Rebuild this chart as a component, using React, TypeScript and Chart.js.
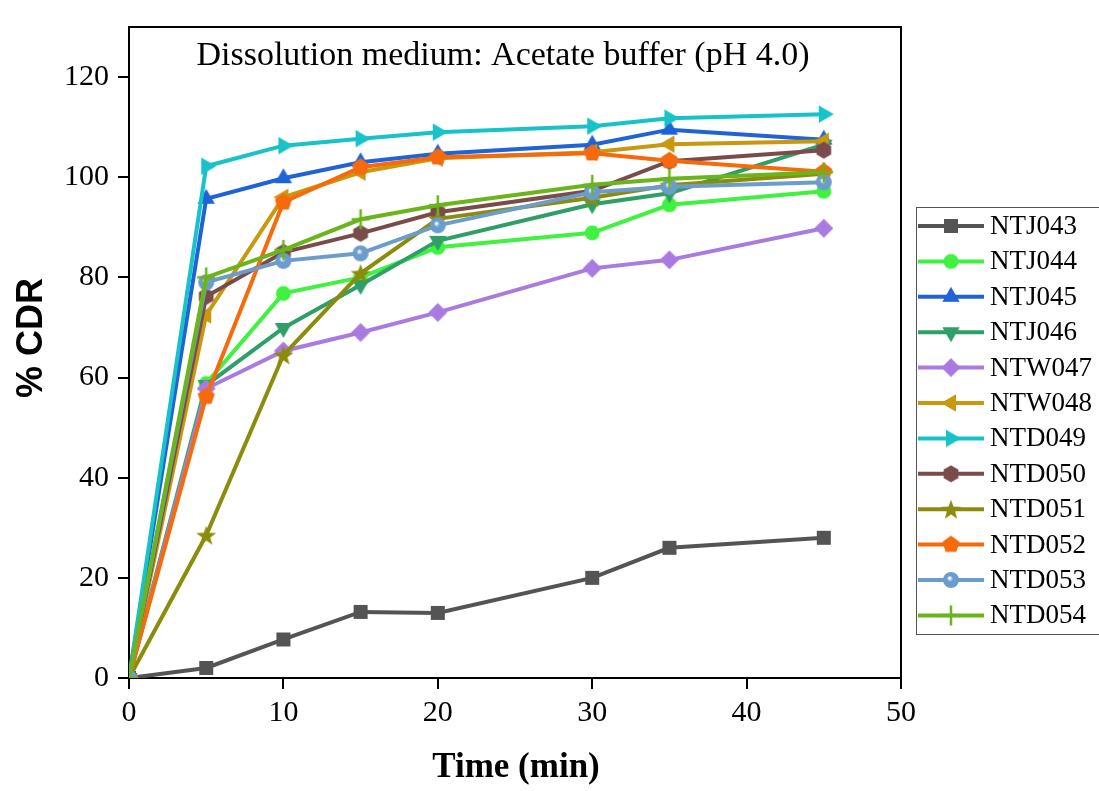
import React, { useEffect, useRef } from "react";
import { Chart, registerables } from "chart.js";

Chart.register(...registerables);

// ---------- data ----------
const times = [0, 5, 10, 15, 20, 30, 35, 45];

const seriesNames = [
  "NTJ043", "NTJ044", "NTJ045", "NTJ046", "NTW047", "NTW048",
  "NTD049", "NTD050", "NTD051", "NTD052", "NTD053", "NTD054",
];

const NTJ043 = [0, 2, 7.7, 13.2, 13, 20, 26, 28];
const NTJ044 = [0, 58.8, 76.8, 80, 86, 88.9, 94.5, 97.2];
const NTJ045 = [0, 95.7, 99.8, 103, 104.7, 106.5, 109.5, 107.5];
const NTJ046 = [0, 58.5, 69.9, 78.5, 87.3, 94.6, 96.8, 106.5];
const NTW047 = [0, 57.8, 65.3, 69, 73, 81.8, 83.5, 89.8];
const NTW048 = [0, 72.5, 96, 101, 103.8, 105, 106.6, 107.2];
const NTD049 = [0, 102.2, 106.3, 107.7, 109, 110.2, 111.8, 112.6];
const NTD050 = [0, 76.2, 85, 88.8, 93, 97.3, 103.2, 105.4];
const NTD051 = [0, 28.5, 64.5, 80.8, 91.7, 95.9, 98.4, 100.7];
const NTD052 = [0, 56.2, 95, 102, 104, 104.8, 103.3, 101.1];
const NTD053 = [0, 79, 83.3, 84.8, 90.4, 97, 98.1, 99];
const NTD054 = [0, 80, 85.5, 91.6, 94.4, 98.5, 99.7, 101];

const seriesValues = [
  NTJ043, NTJ044, NTJ045, NTJ046, NTW047, NTW048,
  NTD049, NTD050, NTD051, NTD052, NTD053, NTD054,
];

const seriesColors = [
  "#545454", "#3ff23f", "#1f63d8", "#2f9f68", "#a97be0", "#c9980e",
  "#17c3c8", "#7a4b4b", "#8c8c0c", "#f76a0c", "#6c9ccc", "#6ab51a",
];

const seriesShapes = [
  "square", "circle", "triUp", "triDown", "diamond", "triLeft",
  "triRight", "hexagon", "star", "pentagon", "sphere", "plus",
];

const xTickValues = [0, 10, 20, 30, 40, 50];
const yTickValues = [0, 20, 40, 60, 80, 100, 120];

const chartTitle = "Dissolution medium: Acetate buffer (pH 4.0)";
const xTitle = "Time (min)";
const yTitle = "% CDR";

const SERIF = "'Times New Roman', 'Liberation Serif', serif";
const SANS = "Arial, 'Liberation Sans', sans-serif";

// ---------- markers ----------
function makeMarker(shape: string, color: string): HTMLCanvasElement {
  const s = 22;
  const c = document.createElement("canvas");
  c.width = s;
  c.height = s;
  const g = c.getContext("2d")!;
  const cx = s / 2;
  const cy = s / 2;
  g.fillStyle = color;
  const poly = (pts: number[][]) => {
    g.beginPath();
    pts.forEach(([x, y], i) => (i ? g.lineTo(x, y) : g.moveTo(x, y)));
    g.closePath();
    g.fill();
  };
  const regular = (n: number, R: number, rot: number) => {
    const pts: number[][] = [];
    for (let k = 0; k < n; k++) {
      const a = rot + (k * 2 * Math.PI) / n;
      pts.push([cx + R * Math.cos(a), cy + R * Math.sin(a)]);
    }
    return pts;
  };
  switch (shape) {
    case "square":
      g.fillRect(cx - 7, cy - 7, 14, 14);
      break;
    case "circle":
      g.beginPath();
      g.arc(cx, cy, 7.5, 0, Math.PI * 2);
      g.fill();
      break;
    case "triUp":
      poly(regular(3, 10, -Math.PI / 2));
      break;
    case "triDown":
      poly(regular(3, 10, Math.PI / 2));
      break;
    case "triLeft":
      poly(regular(3, 10, Math.PI));
      break;
    case "triRight":
      poly(regular(3, 10, 0));
      break;
    case "diamond":
      poly(regular(4, 9.5, -Math.PI / 2));
      break;
    case "hexagon":
      poly(regular(6, 8.5, -Math.PI / 2));
      break;
    case "pentagon":
      poly(regular(5, 9, -Math.PI / 2));
      break;
    case "star": {
      const pts: number[][] = [];
      for (let k = 0; k < 10; k++) {
        const a = -Math.PI / 2 + (k * Math.PI) / 5;
        const R = k % 2 === 0 ? 10.5 : 4.3;
        pts.push([cx + R * Math.cos(a), cy + 1 + R * Math.sin(a)]);
      }
      poly(pts);
      break;
    }
    case "sphere": {
      const grad = g.createRadialGradient(cx - 1.5, cy - 2, 0.5, cx, cy, 8);
      grad.addColorStop(0, "#ffffff");
      grad.addColorStop(0.35, color);
      grad.addColorStop(1, color);
      g.fillStyle = grad;
      g.beginPath();
      g.arc(cx, cy, 8, 0, Math.PI * 2);
      g.fill();
      break;
    }
    case "plus":
      g.fillRect(cx - 1.25, 1, 2.5, 20);
      g.fillRect(2, cy - 1.25, 18, 2.5);
      break;
  }
  return c;
}

// ---------- plugins ----------
const framePlugin = {
  id: "frame",
  afterDraw(chart: any) {
    const { ctx, chartArea } = chart;
    ctx.save();
    ctx.strokeStyle = "#000";
    ctx.lineWidth = 2;
    ctx.beginPath();
    ctx.moveTo(chartArea.left, chartArea.top);
    ctx.lineTo(chartArea.right, chartArea.top);
    ctx.lineTo(chartArea.right, chartArea.bottom);
    ctx.stroke();

    // chart title inside plot
    ctx.fillStyle = "#000";
    ctx.font = `34px ${SERIF}`;
    ctx.textAlign = "center";
    ctx.textBaseline = "alphabetic";
    ctx.fillText(chartTitle, 503, 65);

    // x axis title
    ctx.font = `bold 35px ${SERIF}`;
    ctx.fillText(xTitle, 516, 777);

    // y axis title
    ctx.save();
    ctx.translate(42, 338);
    ctx.rotate(-Math.PI / 2);
    ctx.font = `bold 36px ${SANS}`;
    ctx.fillText(yTitle, 0, 0);
    ctx.restore();
    ctx.restore();
  },
};

const legendPlugin = {
  id: "customLegend",
  afterDraw(chart: any) {
    const { ctx } = chart;
    ctx.save();
    ctx.strokeStyle = "#555";
    ctx.lineWidth = 1;
    ctx.strokeRect(916.5, 207.5, 220, 427);
    const ds = chart.data.datasets;
    ds.forEach((d: any, i: number) => {
      const y = 226 + i * 35.4;
      ctx.strokeStyle = d.borderColor;
      ctx.lineWidth = 4;
      ctx.beginPath();
      ctx.moveTo(918, y);
      ctx.lineTo(984, y);
      ctx.stroke();
      const m = d.pointStyle as HTMLCanvasElement;
      ctx.drawImage(m, 951 - m.width / 2, y - m.height / 2);
      ctx.fillStyle = "#000";
      ctx.font = `27px ${SERIF}`;
      ctx.textAlign = "left";
      ctx.textBaseline = "middle";
      ctx.fillText(d.label, 990, y + 1);
    });
    ctx.restore();
  },
};

export default function App() {
  const ref = useRef<HTMLCanvasElement>(null);

  useEffect(() => {
    if (!ref.current) return;
    const datasets = seriesNames.map((name, i) => ({
      label: name,
      data: times.map((t, j) => ({ x: t, y: seriesValues[i][j] })),
      borderColor: seriesColors[i],
      backgroundColor: seriesColors[i],
      borderWidth: 4,
      pointStyle: makeMarker(seriesShapes[i], seriesColors[i]),
      pointRadius: 8,
      tension: 0,
      order: -i,
    }));

    const chart = new Chart(ref.current, {
      type: "line",
      data: { datasets },
      plugins: [framePlugin, legendPlugin],
      options: {
        animation: false,
        responsive: false,
        events: [],
        layout: { padding: { left: 0, top: 13.5, right: 198, bottom: 0 } },
        plugins: {
          legend: { display: false },
          title: { display: false },
          tooltip: { enabled: false },
        },
        scales: {
          x: {
            type: "linear",
            min: 0,
            max: 50,
            afterBuildTicks: (axis: any) => {
              axis.ticks = xTickValues.map((v) => ({ value: v }));
            },
            afterFit: (scale: any) => {
              scale.height = 113;
            },
            ticks: {
              color: "#000",
              font: { family: SERIF, size: 30 },
              padding: 6,
              maxRotation: 0,
            },
            grid: {
              drawOnChartArea: false,
              drawTicks: true,
              tickLength: 11,
              color: "#000",
              lineWidth: 2,
            },
            border: { display: true, color: "#000", width: 2 },
          },
          y: {
            type: "linear",
            min: 0,
            max: 130,
            afterBuildTicks: (axis: any) => {
              axis.ticks = yTickValues.map((v) => ({ value: v }));
            },
            afterFit: (scale: any) => {
              scale.width = 129;
            },
            ticks: {
              color: "#000",
              font: { family: SERIF, size: 30 },
              padding: 9,
            },
            grid: {
              drawOnChartArea: false,
              drawTicks: true,
              tickLength: 11,
              color: "#000",
              lineWidth: 2,
            },
            border: { display: true, color: "#000", width: 2 },
          },
        },
      },
    } as any);

    return () => chart.destroy();
  }, []);

  return (
    <div
      style={{
        position: "fixed",
        left: 0,
        top: 0,
        width: 1099,
        height: 791,
        background: "#fff",
      }}
    >
      <canvas ref={ref} width={1099} height={791} style={{ display: "block" }} />
    </div>
  );
}
